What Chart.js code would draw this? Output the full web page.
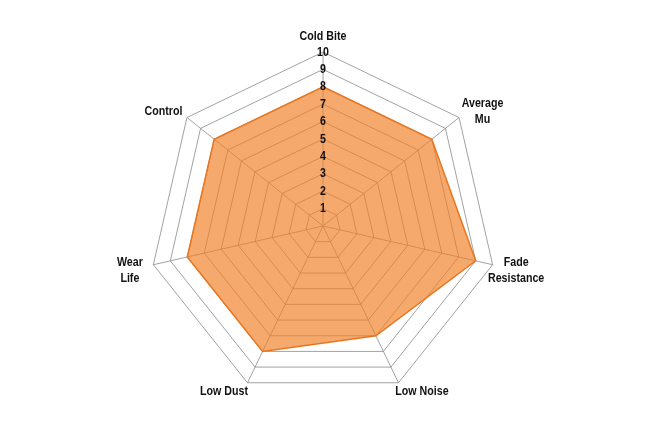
<!DOCTYPE html>
<html><head><meta charset="utf-8">
<script src="https://cdn.jsdelivr.net/npm/chart.js@4/dist/chart.umd.min.js"></script>
<style>html,body{margin:0;padding:0;background:#fff}#wrap{width:645px;height:430px}</style>
</head><body><div id="wrap"><canvas id="c"></canvas></div>
<script>
const categories = [["Cold Bite"], ["Average", "Mu"], ["Fade", "Resistance"], ["Low Noise"], ["Low Dust"], ["Wear", "Life"], ["Control"]];
const ratings = [8, 8, 9, 7, 8, 8, 8];
const tickValues = [0,1,2,3,4,5,6,7,8,9,10];
const FONT = "bold 13px 'Liberation Sans', Arial, sans-serif";
const NARROW = 0.82;

function narrowText(ctx, text, x, y) {
  ctx.save();
  ctx.translate(x, y);
  ctx.scale(NARROW, 1);
  ctx.fillText(text, 0, 0);
  ctx.restore();
}

const labelPlugin = {
  id: 'labels',
  afterDraw(chart) {
    const s = chart.scales.r, ctx = chart.ctx;
    ctx.save();
    ctx.font = FONT; ctx.fillStyle = '#111';
    ctx.textAlign = 'center'; ctx.textBaseline = 'middle';
    // tick labels
    s.ticks.forEach((t, i) => {
      if (t.value === 0) return;
      narrowText(ctx, String(t.value), s.xCenter, s.yCenter - s.getDistanceFromCenterForValue(t.value));
    });
    // point labels
    const lh = 16;
    chart.data.labels.forEach((lines, i) => {
      const p = s.getPointPosition(i, s.drawingArea);
      const a = s.getIndexAngle(i);
      const sn = Math.sin(a), cs = Math.cos(a);
      let cx = p.x, cy = p.y;
      if (Math.abs(sn) < 0.1) { cy -= 16; }
      else {
        cx += Math.sign(sn) * 23.5;
        cy += cs > 0 ? -6 : (cs < -0.5 ? 9 : 6);
      }
      const top = cy - (lines.length - 1) * lh / 2;
      lines.forEach((ln, k) => narrowText(ctx, ln, cx, top + k * lh));
    });
    ctx.restore();
  }
};

new Chart(document.getElementById('c'), {
  type: 'radar',
  data: { labels: categories, datasets: [{
    data: ratings,
    backgroundColor: 'rgba(240,128,40,0.68)',
    borderColor: '#E8761F',
    borderWidth: 1.5,
    pointRadius: 0,
    fill: true
  }]},
  options: {
    responsive: true, maintainAspectRatio: false, animation: false,
    plugins: { legend: { display: false }, tooltip: { enabled: false } },
    layout: { padding: { top: 52, bottom: 30, left: 2, right: 0 } },
    scales: { r: {
      min: 0, max: 10,
      afterBuildTicks: s => { s.ticks = tickValues.map(v => ({ value: v })); },
      ticks: { display: false, stepSize: 1 },
      grid: { color: '#8a8a8a', lineWidth: 0.8 },
      angleLines: { color: '#8a8a8a', lineWidth: 0.8 },
      pointLabels: { display: false }
    }}
  },
  plugins: [labelPlugin]
});
</script></body></html>
